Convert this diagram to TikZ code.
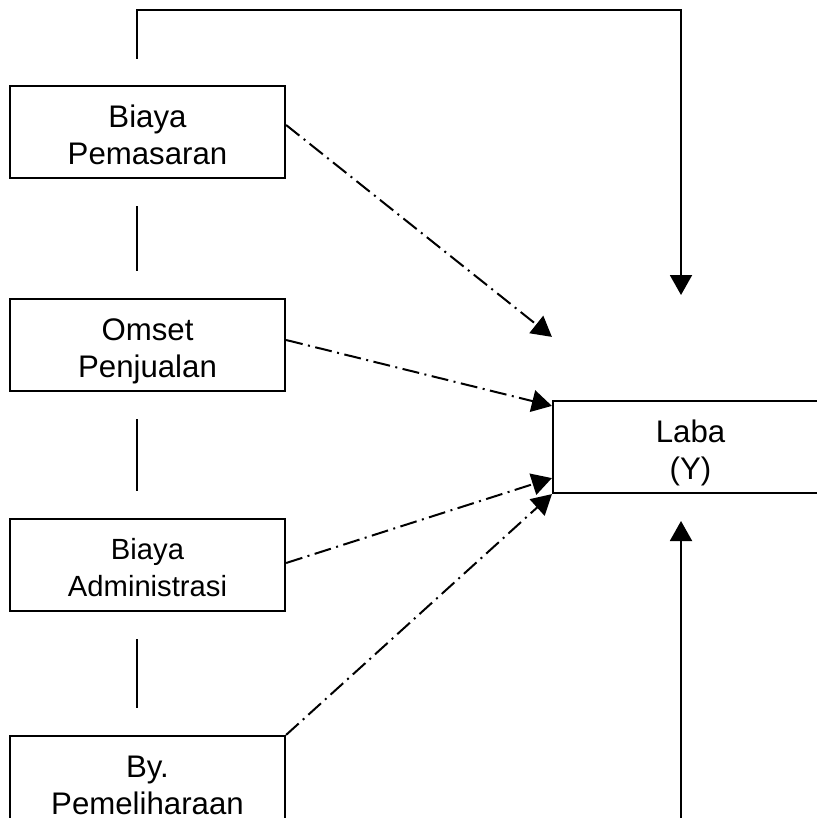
\documentclass[tikz,border=0pt]{standalone}
\usepackage{fontspec}
\setmainfont{Liberation Sans}
\usepackage{tikz}
\usetikzlibrary{arrows.meta,positioning,calc}

\tikzset{
  varbox/.style={draw,line width=1.1pt,minimum width=137.5pt,minimum height=46pt,inner sep=0pt,align=center,text height=32.5pt,text depth=0pt,font=\fontsize{15.6}{18.5}\selectfont},
  dashdot/.style={line width=1pt,dash pattern=on 8.5pt off 2.75pt on 1pt off 2.75pt,-{Triangle[length=10pt,width=11pt]}},
  solidarrow/.style={line width=1pt,-{Triangle[length=10pt,width=11pt]}},
  link/.style={line width=1pt,shorten <=13.5pt,shorten >=13.5pt}
}

\begin{document}
\begin{tikzpicture}[x=0.5pt,y=-0.5pt]
  \useasboundingbox (0,0) rectangle (817,818);
  \node[varbox] (pemasaran) at (147.5,132) {Biaya\\Pemasaran};
  \node[varbox] (omset) at (147.5,345) {Omset\\Penjualan};
  \node[varbox,text height=31pt,font=\fontsize{14.6}{18.5}\selectfont] (admin) at (147.5,565) {Biaya\\Administrasi};
  \node[varbox] (pemeliharaan) at (147.5,782) {By.\\Pemeliharaan};
  \node[varbox] (laba) at (690.5,447) {Laba\\(Y)};

  % links between the X boxes
  \foreach \a/\b in {pemasaran/omset,omset/admin,admin/pemeliharaan}
    \draw[link] ($(\a.south)+(-10.5,0)$) -- ($(\b.north)+(-10.5,0)$);

  % simultaneous effect
  \coordinate (ytop) at (681,295);
  \coordinate (ybottom) at (681,521);
  \coordinate (ybase) at (681,830);
  \draw[solidarrow] ($(pemasaran.north)+(-10.5,-26)$) -- ++(0,-49) -| (ytop);
  \draw[solidarrow] (ybase) -- (ybottom);

  % partial effects
  \draw[dashdot] ($(pemasaran.east)+(0,-7)$) -- ($(laba.north west)+(0,-63)$);
  \draw[dashdot] ($(omset.east)+(0,-5)$) -- ($(laba.north west)+(0,6)$);
  \draw[dashdot] ($(admin.east)+(0,-2)$) -- ($(laba.south west)+(0,-16)$);
  \draw[dashdot] (pemeliharaan.north east) -- (laba.south west);
\end{tikzpicture}
\end{document}
